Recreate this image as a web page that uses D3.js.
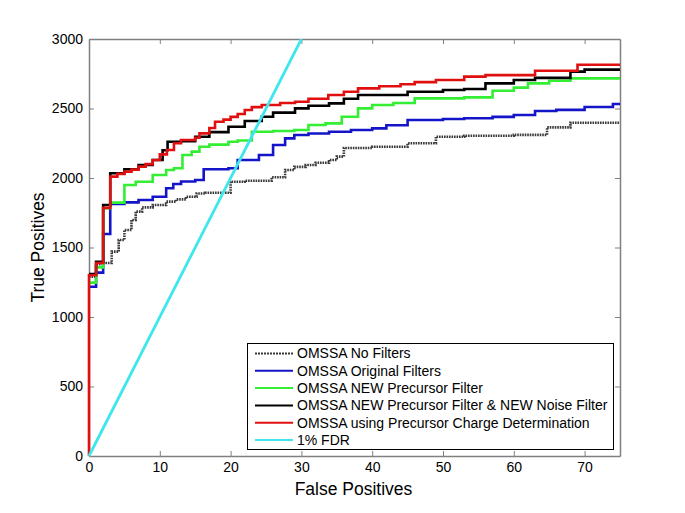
<!DOCTYPE html>
<html><head><meta charset="utf-8">
<script src="https://cdn.jsdelivr.net/npm/d3@7"></script>
<style>body{margin:0;background:#fff}svg{display:block}</style>
</head><body>
<svg id="chart" width="685" height="513"></svg>
<script>
// ---- data ----
const xTicks = [0,10,20,30,40,50,60,70];
const yTicks = [0,500,1000,1500,2000,2500,3000];
const seriesNames = ["OMSSA No Filters","OMSSA Original Filters","OMSSA NEW Precursor Filter","OMSSA NEW Precursor Filter & NEW Noise Filter","OMSSA using Precursor Charge Determination","1% FDR"];
const seriesColors = ["#3a3a3a","#1414c8","#33ee33","#000000","#e01010","#40e6ee"];

const noFiltersX = [0,1,2,3.2,4.2,5,6,6.6,7.5,9,10.9,12.3,13.7,15.2,16.4,20,22,25.8,27.7,29,30.6,32,33.9,35,36,40,45,49,53,60,64.7,68,75];
const noFiltersY = [1290,1380,1388,1470,1554,1626,1698,1758,1789,1806,1830,1846,1865,1889,1894,1973,1980,2005,2058,2080,2094,2110,2129,2154,2216,2225,2250,2297,2304,2310,2364,2398,2398];

const originalX = [0,1,2,3,5,7,9,10.9,11.9,13,15,16.2,19.7,21,24,26,27.7,29,31,33.9,37,40,42,45,50,53,57,60,63,66,70,74,75];
const originalY = [1218,1319,1597,1813,1825,1842,1865,1926,1957,1975,1986,2063,2070,2129,2165,2237,2285,2309,2320,2333,2345,2357,2380,2417,2425,2430,2440,2453,2482,2490,2511,2532,2532];

const newPrecX = [0,1,2,3,5,6.6,9,10.9,12,13.2,14.5,15.6,17,19.7,21,23,26,29,31,33.4,35.7,38,40,43,46,53,57,60,62,65,68,75];
const newPrecY = [1247,1357,1782,1823,1950,1973,2022,2058,2070,2165,2190,2225,2240,2261,2270,2333,2338,2345,2381,2393,2441,2501,2525,2540,2573,2580,2628,2650,2681,2700,2717,2720];

const newNoiseX = [0,1,2,3,5,7,9,10.4,11.1,13,15,17,19.7,22,24.4,26,29.1,31,33.9,36,38,45,50,53,56,60,63,68,70,75];
const newNoiseY = [1309,1398,1806,2034,2063,2094,2129,2200,2261,2265,2297,2330,2369,2410,2441,2470,2501,2520,2537,2570,2597,2621,2633,2640,2681,2705,2720,2765,2780,2784];

const chargeX = [0,0,1,2,3,4,5,6,7,8,9,10,11,12,13,15,15.6,17,17.8,19,20,21,22,23,24.4,27,29.1,31,33.8,36,38,41,44,46,49,53,56,63,69,75];
const chargeY = [0,1300,1388,1785,2010,2030,2046,2060,2082,2100,2130,2170,2201,2250,2273,2290,2321,2360,2405,2420,2440,2460,2489,2510,2525,2540,2549,2570,2597,2620,2645,2660,2675,2690,2705,2729,2740,2772,2815,2815];

const fdrX = [0,30];
const fdrY = [0,3000];

// ---- layout ----
const W = 685, H = 513;
const m = {left:89, right:65, top:39, bottom:57};
const iw = W - m.left - m.right, ih = H - m.top - m.bottom;
const svg = d3.select("#chart");
const x = d3.scaleLinear().domain([0,75]).range([0, iw]);
const y = d3.scaleLinear().domain([0,3000]).range([ih, 0]);
const g = svg.append("g").attr("transform",`translate(${m.left},${m.top})`);

g.append("defs").append("clipPath").attr("id","clip")
  .append("rect").attr("x",-2).attr("y",0).attr("width",iw+2).attr("height",ih+1);

const font = "'Liberation Sans', Arial, Helvetica, sans-serif";

// axes (MATLAB box with inward ticks)
const axColor = "#808080";
const fmt = d3.format("d");
const xb = g.append("g").attr("transform",`translate(0,${ih})`)
  .call(d3.axisBottom(x).tickValues(xTicks).tickFormat(fmt).tickSizeInner(-5).tickSizeOuter(0).tickPadding(6));
const xt = g.append("g").call(d3.axisTop(x).tickValues(xTicks).tickSizeInner(-5).tickSizeOuter(0).tickFormat(""));
const yl = g.append("g").call(d3.axisLeft(y).tickValues(yTicks).tickFormat(fmt).tickSizeInner(-5).tickSizeOuter(0).tickPadding(6));
const yr = g.append("g").attr("transform",`translate(${iw},0)`)
  .call(d3.axisRight(y).tickValues(yTicks).tickSizeInner(-5).tickSizeOuter(0).tickFormat(""));
[xb,xt,yl,yr].forEach(a=>{
  a.selectAll("path.domain").attr("stroke",axColor).attr("stroke-width",1.5);
  a.selectAll(".tick line").attr("stroke",axColor).attr("stroke-width",1);
  a.selectAll(".tick text").attr("fill","#000").style("font-family",font).style("font-size","14px");
});

// series
const series = [
  {xs:noFiltersX, ys:noFiltersY, dash:"1.6,0.9"},
  {xs:originalX, ys:originalY},
  {xs:newPrecX, ys:newPrecY},
  {xs:newNoiseX, ys:newNoiseY},
  {xs:chargeX, ys:chargeY},
];
const stepLine = d3.line().x(d=>x(d[0])).y(d=>y(d[1])).curve(d3.curveStepAfter);
const plot = g.append("g").attr("clip-path","url(#clip)");
series.forEach((s,i)=>{
  const pts = s.xs.map((v,k)=>[v,s.ys[k]]);
  plot.append("path").datum(pts).attr("d",stepLine)
    .attr("fill","none").attr("stroke",seriesColors[i]).attr("stroke-width",2.6)
    .attr("stroke-dasharray", s.dash || null);
});
const fdrPts = fdrX.map((v,k)=>[v,fdrY[k]]);
plot.append("path").datum(fdrPts)
  .attr("d",d3.line().x(d=>x(d[0])).y(d=>y(d[1])))
  .attr("fill","none").attr("stroke",seriesColors[5]).attr("stroke-width",2.8);

// axis titles
svg.append("text").attr("x", m.left + iw/2 - 1).attr("y", 495)
  .attr("text-anchor","middle").style("font-family",font).style("font-size","17.5px")
  .text("False Positives");
svg.append("text").attr("transform",`translate(44,${m.top+ih/2}) rotate(-90)`)
  .attr("text-anchor","middle").style("font-family",font).style("font-size","17.5px")
  .text("True Positives");

// legend
const lg = svg.append("g");
lg.append("rect").attr("x",247.5).attr("y",343.5).attr("width",366).attr("height",106)
  .attr("fill","#fff").attr("stroke","#000").attr("stroke-width",1);
seriesNames.forEach((name,i)=>{
  const yy = 353.5 + i*17.3;
  lg.append("line").attr("x1",255).attr("x2",293).attr("y1",yy).attr("y2",yy)
    .attr("stroke",seriesColors[i]).attr("stroke-width",2)
    .attr("stroke-dasharray", i===0 ? "2,1" : null);
  lg.append("text").attr("x",297).attr("y",yy).attr("dy","0.35em")
    .style("font-family",font).style("font-size","14px").text(name);
});
</script>
</body></html>
